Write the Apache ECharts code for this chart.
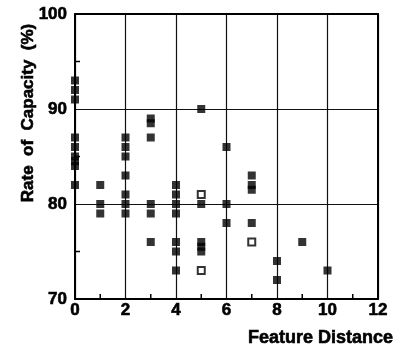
<!DOCTYPE html>
<html>
<head>
<meta charset="utf-8">
<style>
    html, body { margin: 0; padding: 0; background: #fff; }
    #chart { width: 398px; height: 352px; }
</style>
<script src="https://cdn.jsdelivr.net/npm/echarts@6/dist/echarts.min.js"></script>
</head>
<body>
<div id="chart"></div>
<script>
// filled squares: [feature distance, rate of capacity %]
var filledPoints = [
    [0, 93], [0, 92], [0, 91], [0, 87], [0, 86], [0, 85], [0, 84.5], [0, 84], [0, 82],
    [1, 82], [1, 80], [1, 79],
    [2, 87], [2, 86], [2, 85], [2, 83], [2, 81], [2, 80], [2, 79],
    [3, 89], [3, 88.5], [3, 87], [3, 80], [3, 79], [3, 76],
    [4, 82], [4, 81], [4, 80], [4, 79], [4, 76], [4, 75], [4, 73],
    [5, 90], [5, 80], [5, 76], [5, 75.5], [5, 75],
    [6, 86], [6, 80], [6, 78],
    [7, 83], [7, 82], [7, 81.5], [7, 78],
    [8, 74], [8, 72],
    [9, 76],
    [10, 73]
];
// open squares
var openPoints = [
    [5, 81], [5, 73], [7, 76]
];
var xTicks = [0, 12, 2];   // min, max, interval
var yTicks = [70, 100, 10];
var xMinorTicks = [1, 3, 5, 7, 9, 11];
var yMinorTicks = [75, 85, 95];

var myChart = echarts.init(document.getElementById('chart'));
var font = '"Liberation Sans", Arial, sans-serif';
var labelStyle = {
    color: '#000', fontFamily: font, fontWeight: 'bold', fontSize: 17,
    textBorderColor: '#000', textBorderWidth: 0.6
};
var frameLine = { color: '#000', width: 2 };

// frame axis for the top / right border: line only
function frameAxis(t, pos) {
    return {
        type: 'value', position: pos,
        min: t[0], max: t[1], interval: t[2],
        axisLine: { show: true, onZero: false, lineStyle: frameLine },
        axisTick: { show: false },
        splitLine: { show: false },
        axisLabel: { show: false }
    };
}

// small inward tick marks, placed through the axes' own scales
function tickSeries(data, dx, dy) {
    return {
        type: 'custom',
        silent: true,
        clip: false,
        z: 5,
        data: data,
        renderItem: function(params, api) {
            var p = api.coord([api.value(0), api.value(1)]);
            return {
                type: 'line',
                shape: { x1: p[0], y1: p[1], x2: p[0] + dx, y2: p[1] + dy },
                style: { stroke: '#000', lineWidth: 1.5 }
            };
        }
    };
}

var option = {
    animation: false,
    backgroundColor: '#fff',
    grid: { left: 75, right: 20, top: 14, bottom: 53 },
    xAxis: [{
        type: 'value',
        min: xTicks[0], max: xTicks[1], interval: xTicks[2],
        axisLine: { onZero: false, lineStyle: frameLine },
        axisTick: { show: false },
        splitLine: { show: true, lineStyle: { color: '#111', width: 1.2 } },
        axisLabel: Object.assign({ margin: 3 }, labelStyle)
    }, frameAxis(xTicks, 'top')],
    yAxis: [{
        type: 'value',
        min: yTicks[0], max: yTicks[1], interval: yTicks[2],
        axisLine: { show: true, onZero: false, lineStyle: frameLine },
        axisTick: { show: false },
        splitLine: { show: true, lineStyle: { color: '#111', width: 1.2 } },
        axisLabel: Object.assign({ margin: 8 }, labelStyle)
    }, frameAxis(yTicks, 'right')],
    graphic: [{
        type: 'text',
        x: 28, y: 113,
        rotation: Math.PI / 2,
        style: {
            text: 'Rate  of  Capacity  (%)',
            fill: '#000',
            stroke: '#000',
            lineWidth: 0.6,
            font: 'bold 17px ' + font,
            align: 'center',
            verticalAlign: 'middle'
        }
    }, {
        type: 'text',
        x: 393, y: 338,
        style: {
            text: 'Feature Distance',
            fill: '#000',
            stroke: '#000',
            lineWidth: 0.6,
            font: 'bold 18px ' + font,
            align: 'right',
            verticalAlign: 'middle'
        }
    }],
    series: [
        tickSeries(xMinorTicks.map(function(v) { return [v, yTicks[0]]; }), 0, -5),
        tickSeries(yMinorTicks.map(function(v) { return [xTicks[0], v]; }), 5, 0),
        {
            name: 'filled',
            type: 'scatter',
            symbol: 'rect',
            symbolSize: 8,
            itemStyle: { color: '#000' },
            data: filledPoints
        }, {
            name: 'open',
            type: 'scatter',
            symbol: 'rect',
            symbolSize: 7,
            itemStyle: { color: '#fff', borderColor: '#000', borderWidth: 2 },
            data: openPoints
        }
    ]
};
myChart.setOption(option);
</script>
</body>
</html>
